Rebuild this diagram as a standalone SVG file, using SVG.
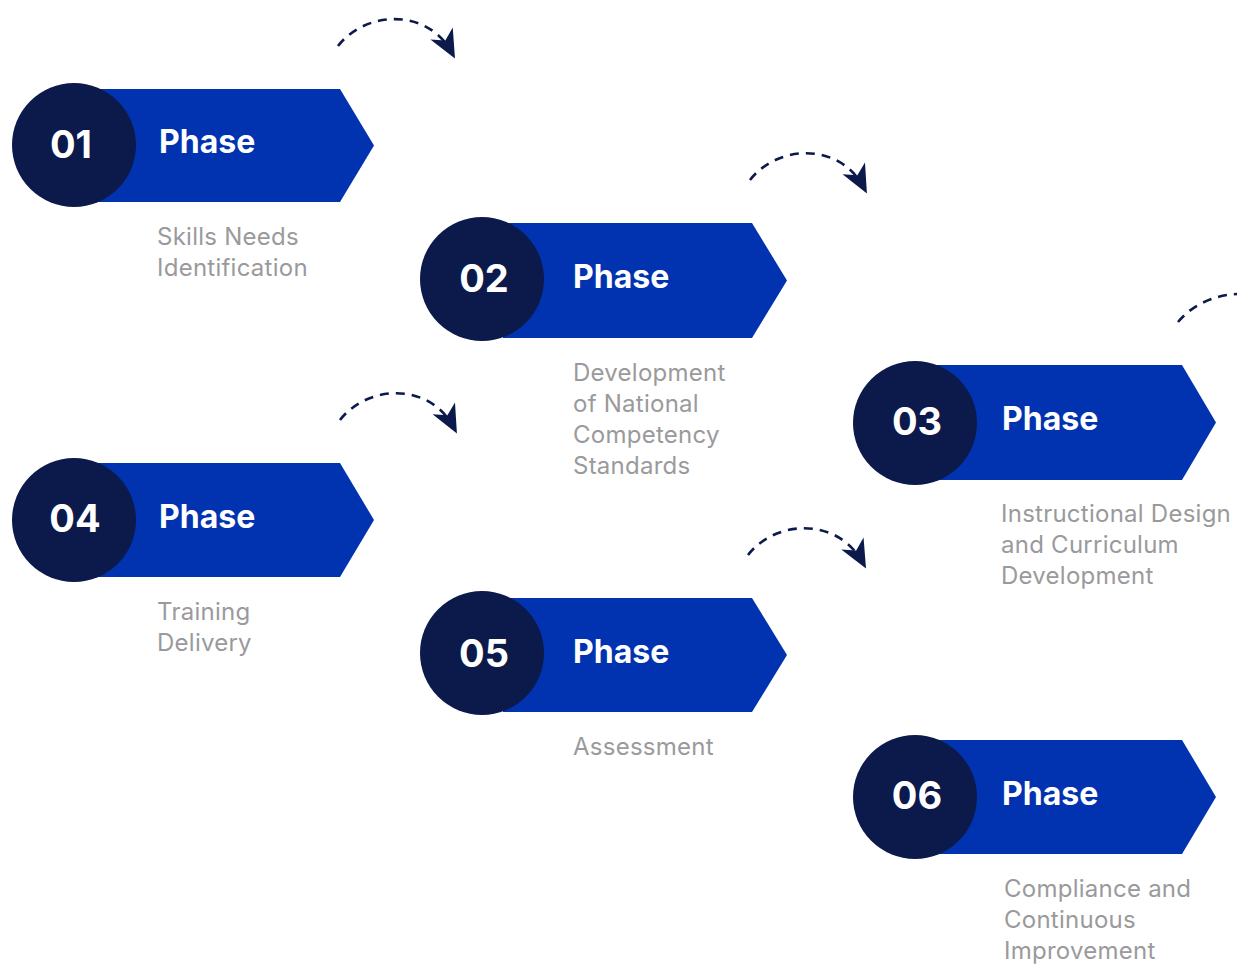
<svg xmlns="http://www.w3.org/2000/svg" width="1237" height="964" viewBox="0 0 1237 964">
<style>
.ban{fill:#0133B0}
.cir{fill:#0C1A4B}
.num{font-family:Inter,"Liberation Sans",sans-serif;font-weight:700;font-size:38px;fill:#fff;text-anchor:middle}
.ph{font-family:Inter,"Liberation Sans",sans-serif;font-weight:700;font-size:32px;fill:#fff}
.lab{font-family:Inter,"Liberation Sans",sans-serif;font-size:24px;letter-spacing:0.25px;fill:#9a9a9c}
.con{fill:none;stroke:#0C1A4B;stroke-width:2.6;stroke-dasharray:9 7}
</style>
<defs>
<marker id="ah" viewBox="0 0 12 12" refX="9" refY="6" markerWidth="19" markerHeight="19" markerUnits="userSpaceOnUse" orient="auto" overflow="visible">
<path d="M-5,-2 L13,6 L-5,14 L0,6 Z" fill="#0C1A4B"/>
</marker>
</defs>
<rect width="1237" height="964" fill="#fff"/>
<g id="connectors">
<path class="con" d="M338,46 C366,10 428,8 452,53" marker-end="url(#ah)"/>
<path class="con" d="M750,180 C778,144 840,142 864,188" marker-end="url(#ah)"/>
<path class="con" d="M1178,322 C1192,305 1214,295 1237,294"/>
<path class="con" d="M340,420 C368,384 430,382 454,428" marker-end="url(#ah)"/>
<path class="con" d="M748,555 C776,519 838,517 863,563" marker-end="url(#ah)"/>
</g>
<g id="node1">
<path class="ban" d="M95,89 H340 L374,145.5 L340,202 H95 Z"/>
<circle class="cir" cx="74" cy="145" r="62"/>
<text class="num" x="71" y="158">01</text>
<text class="ph" x="159" y="153">Phase</text>
<text class="lab" x="157" y="245">Skills Needs</text>
<text class="lab" x="157" y="276">Identification</text>
</g>
<g id="node2">
<path class="ban" d="M503,223 H752 L787,280.5 L752,338 H503 Z"/>
<circle class="cir" cx="482" cy="279" r="62"/>
<text class="num" x="484" y="292">02</text>
<text class="ph" x="573" y="288">Phase</text>
<text class="lab" x="573" y="381">Development</text>
<text class="lab" x="573" y="412">of National</text>
<text class="lab" x="573" y="443">Competency</text>
<text class="lab" x="573" y="474">Standards</text>
</g>
<g id="node3">
<path class="ban" d="M936,365 H1182 L1216,422.5 L1182,480 H936 Z"/>
<circle class="cir" cx="915" cy="423" r="62"/>
<text class="num" x="917" y="435">03</text>
<text class="ph" x="1002" y="430">Phase</text>
<text class="lab" x="1001" y="522">Instructional Design</text>
<text class="lab" x="1001" y="553">and Curriculum</text>
<text class="lab" x="1001" y="584">Development</text>
</g>
<g id="node4">
<path class="ban" d="M95,463 H340 L374,520 L340,577 H95 Z"/>
<circle class="cir" cx="74" cy="520" r="62"/>
<text class="num" x="75" y="532">04</text>
<text class="ph" x="159" y="528">Phase</text>
<text class="lab" x="157" y="620">Training</text>
<text class="lab" x="157" y="651">Delivery</text>
</g>
<g id="node5">
<path class="ban" d="M503,598 H752 L787,655 L752,712 H503 Z"/>
<circle class="cir" cx="482" cy="653" r="62"/>
<text class="num" x="484" y="667">05</text>
<text class="ph" x="573" y="663">Phase</text>
<text class="lab" x="573" y="755">Assessment</text>
</g>
<g id="node6">
<path class="ban" d="M936,740 H1182 L1216,797 L1182,854 H936 Z"/>
<circle class="cir" cx="915" cy="797" r="62"/>
<text class="num" x="917" y="809">06</text>
<text class="ph" x="1002" y="805">Phase</text>
<text class="lab" x="1004" y="897">Compliance and</text>
<text class="lab" x="1004" y="928">Continuous</text>
<text class="lab" x="1004" y="959">Improvement</text>
</g>
</svg>
